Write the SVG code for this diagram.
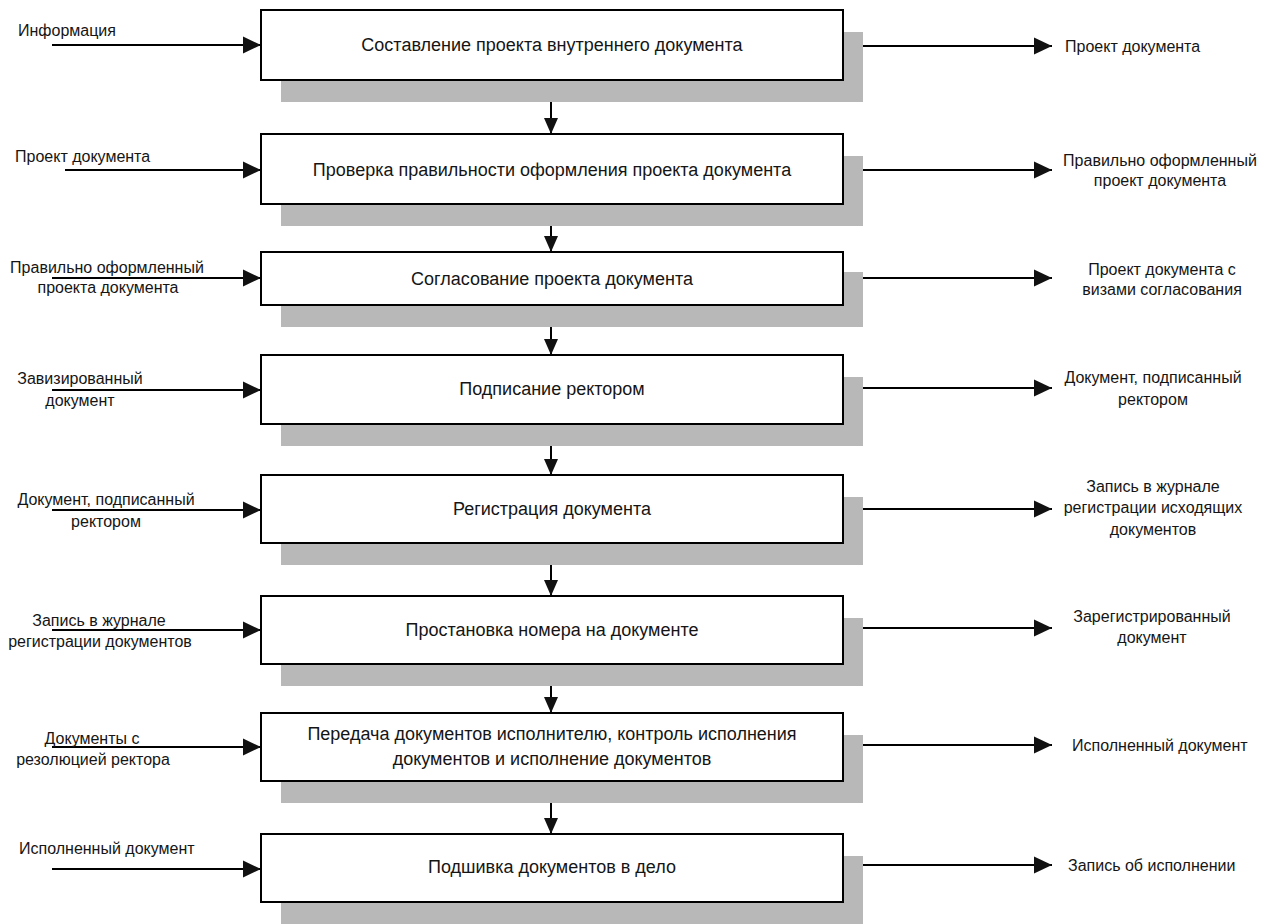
<svg xmlns="http://www.w3.org/2000/svg" width="1275" height="924" viewBox="0 0 1275 924">
<defs>
<style>
.box{fill:#fff;stroke:#000;stroke-width:2}
.sh{fill:#b8b8b8}
.bt{font-family:"Liberation Sans",Arial,sans-serif;font-size:18px;fill:#151515;text-anchor:middle}
.lb{font-family:"Liberation Sans",Arial,sans-serif;font-size:16px;fill:#151515}
.c{text-anchor:middle}
.ln{stroke:#000;stroke-width:2;fill:none}
.h{marker-end:url(#ah)}
.v{marker-end:url(#av)}
</style>
<marker id="ah" viewBox="0 0 18 18" refX="18" refY="9" markerWidth="18" markerHeight="18" markerUnits="userSpaceOnUse" orient="auto"><path d="M0,0.5 L18,9 L0,17.5 z" fill="#111"/></marker>
<marker id="av" viewBox="0 0 16 14" refX="16" refY="7" markerWidth="16" markerHeight="14" markerUnits="userSpaceOnUse" orient="auto"><path d="M0,0 L16,7 L0,14 z" fill="#111"/></marker>
</defs>
<rect width="1275" height="924" fill="#fff"/>

<g id="connectors">
<line class="ln h" x1="52" y1="45" x2="261" y2="45"/>
<line class="ln h" x1="843" y1="46" x2="1052" y2="46"/>
<line class="ln v" x1="551" y1="80" x2="551" y2="134"/>
<line class="ln h" x1="65" y1="170" x2="261" y2="170"/>
<line class="ln h" x1="843" y1="170" x2="1052" y2="170"/>
<line class="ln v" x1="551" y1="204" x2="551" y2="252"/>
<line class="ln h" x1="52" y1="278" x2="261" y2="278"/>
<line class="ln h" x1="843" y1="278" x2="1052" y2="278"/>
<line class="ln v" x1="551" y1="305" x2="551" y2="355"/>
<line class="ln h" x1="52" y1="390" x2="261" y2="390"/>
<line class="ln h" x1="843" y1="388" x2="1052" y2="388"/>
<line class="ln v" x1="551" y1="424" x2="551" y2="475"/>
<line class="ln h" x1="52" y1="510" x2="261" y2="510"/>
<line class="ln h" x1="843" y1="509" x2="1052" y2="509"/>
<line class="ln v" x1="551" y1="543" x2="551" y2="596"/>
<line class="ln h" x1="52" y1="630" x2="261" y2="630"/>
<line class="ln h" x1="843" y1="628" x2="1052" y2="628"/>
<line class="ln v" x1="551" y1="664" x2="551" y2="713"/>
<line class="ln h" x1="52" y1="747" x2="261" y2="747"/>
<line class="ln h" x1="843" y1="745" x2="1052" y2="745"/>
<line class="ln v" x1="551" y1="781" x2="551" y2="834"/>
<line class="ln h" x1="52" y1="869" x2="261" y2="869"/>
<line class="ln h" x1="843" y1="865" x2="1052" y2="865"/>
</g>

<g id="n1">
<rect class="sh" x="281" y="32" width="582" height="70"/>
<rect class="box" x="261" y="10" width="582" height="70"/>
<text class="bt" x="552" y="51">Составление проекта внутреннего документа</text>
</g>
<g id="n2">
<rect class="sh" x="281" y="156" width="582" height="70"/>
<rect class="box" x="261" y="134" width="582" height="70"/>
<text class="bt" x="552" y="176">Проверка правильности оформления проекта документа</text>
</g>
<g id="n3">
<rect class="sh" x="281" y="272" width="582" height="55"/>
<rect class="box" x="261" y="252" width="582" height="53"/>
<text class="bt" x="552" y="285">Согласование проекта документа</text>
</g>
<g id="n4">
<rect class="sh" x="281" y="377" width="582" height="69"/>
<rect class="box" x="261" y="355" width="582" height="69"/>
<text class="bt" x="552" y="395">Подписание ректором</text>
</g>
<g id="n5">
<rect class="sh" x="281" y="497" width="582" height="68"/>
<rect class="box" x="261" y="475" width="582" height="68"/>
<text class="bt" x="552" y="515">Регистрация документа</text>
</g>
<g id="n6">
<rect class="sh" x="281" y="618" width="582" height="68"/>
<rect class="box" x="261" y="596" width="582" height="68"/>
<text class="bt" x="552" y="636">Простановка номера на документе</text>
</g>
<g id="n7">
<rect class="sh" x="281" y="735" width="582" height="68"/>
<rect class="box" x="261" y="713" width="582" height="68"/>
<text class="bt" x="552" y="740">Передача документов исполнителю, контроль исполнения</text>
<text class="bt" x="552" y="765">документов и исполнение документов</text>
</g>
<g id="n8">
<rect class="sh" x="281" y="856" width="582" height="68"/>
<rect class="box" x="261" y="834" width="582" height="68"/>
<text class="bt" x="552" y="873">Подшивка документов в дело</text>
</g>

<g id="labels-in">
<text class="lb" x="18" y="36">Информация</text>
<text class="lb" x="15" y="162">Проект документа</text>
<text class="lb c" x="107" y="273">Правильно оформленный</text>
<text class="lb c" x="108" y="293">проекта документа</text>
<text class="lb c" x="80" y="384">Завизированный</text>
<text class="lb c" x="80" y="406">документ</text>
<text class="lb c" x="106" y="505">Документ, подписанный</text>
<text class="lb c" x="106" y="527">ректором</text>
<text class="lb c" x="99" y="626">Запись в журнале</text>
<text class="lb c" x="100" y="647">регистрации документов</text>
<text class="lb c" x="92" y="744">Документы с</text>
<text class="lb c" x="93" y="765">резолюцией ректора</text>
<text class="lb" x="19" y="854">Исполненный документ</text>
</g>

<g id="labels-out">
<text class="lb" x="1065" y="52">Проект документа</text>
<text class="lb c" x="1160" y="166">Правильно оформленный</text>
<text class="lb c" x="1160" y="186">проект документа</text>
<text class="lb c" x="1162" y="275">Проект документа с</text>
<text class="lb c" x="1162" y="295">визами согласования</text>
<text class="lb c" x="1153" y="383">Документ, подписанный</text>
<text class="lb c" x="1153" y="405">ректором</text>
<text class="lb c" x="1153" y="492">Запись в журнале</text>
<text class="lb c" x="1153" y="513">регистрации исходящих</text>
<text class="lb c" x="1153" y="535">документов</text>
<text class="lb c" x="1152" y="622">Зарегистрированный</text>
<text class="lb c" x="1152" y="643">документ</text>
<text class="lb" x="1072" y="751">Исполненный документ</text>
<text class="lb" x="1068" y="871">Запись об исполнении</text>
</g>
</svg>
